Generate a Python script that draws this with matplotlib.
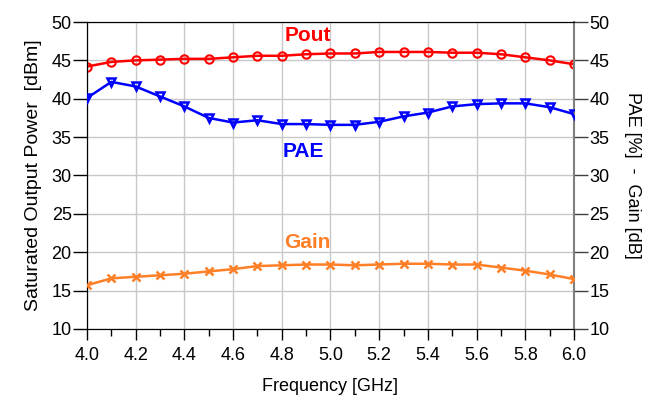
import matplotlib.pyplot as plt, numpy as np
from matplotlib.ticker import MultipleLocator

plt.rcParams['font.family'] = ['Liberation Sans', 'DejaVu Sans']

freq = [4.0, 4.1, 4.2, 4.3, 4.4, 4.5, 4.6, 4.7, 4.8, 4.9, 5.0,
        5.1, 5.2, 5.3, 5.4, 5.5, 5.6, 5.7, 5.8, 5.9, 6.0]
pout = [44.2, 44.8, 45.0, 45.1, 45.2, 45.2, 45.4, 45.6, 45.6, 45.8, 45.9,
        45.9, 46.1, 46.1, 46.1, 46.0, 46.0, 45.8, 45.4, 45.0, 44.5]
pae = [40.1, 42.2, 41.6, 40.3, 39.0, 37.5, 36.9, 37.2, 36.7, 36.7, 36.6,
       36.6, 37.0, 37.7, 38.2, 39.0, 39.3, 39.4, 39.4, 38.9, 38.0]
gain = [15.7, 16.6, 16.8, 17.0, 17.2, 17.5, 17.8, 18.2, 18.3, 18.4, 18.4,
        18.3, 18.4, 18.5, 18.5, 18.4, 18.4, 18.0, 17.6, 17.1, 16.5]

RED, BLUE, ORANGE = '#ff0000', '#0000ff', '#ff7f27'

fig = plt.figure(figsize=(6.55, 3.98), dpi=100)
ax = fig.add_axes([0.1328, 0.1734, 0.7435, 0.7713])
ax2 = ax.twinx()

ax.plot(freq, pout, color=RED, lw=1.8, marker='o', ms=6, mfc='none', mew=1.5, zorder=3)
ax2.plot(freq, pae, color=BLUE, lw=1.8, marker='v', ms=6, mfc='none', mew=1.8, zorder=3)
ax2.plot(freq, gain, color=ORANGE, lw=1.8, marker='x', ms=6, mew=1.8, zorder=3)

for a in (ax, ax2):
    a.set_xlim(4.0, 6.0)
    a.set_ylim(10, 50)
    a.yaxis.set_major_locator(MultipleLocator(5))
    a.tick_params(axis='y', labelsize=13, direction='out', length=10, width=1, pad=1)

ax.xaxis.set_minor_locator(MultipleLocator(0.1))
ax.set_xticks(np.arange(4.0, 6.01, 0.2))
ax.set_xticklabels([f'{v:.1f}' for v in np.arange(4.0, 6.01, 0.2)])
ax.tick_params(axis='x', which='major', labelsize=13, direction='out', length=8, width=1, pad=5)
ax.tick_params(axis='x', which='minor', direction='out', length=5, width=1)
ax2.tick_params(axis='y', color='#404040')

ax.grid(True, which='major', color='#c8c8c8', lw=1)
ax.set_axisbelow(True)

for s in ('left', 'bottom', 'top'):
    ax.spines[s].set_color('black')
ax2.spines['right'].set_color('#808080')
ax2.spines['right'].set_linewidth(1.5)
ax.spines['right'].set_visible(False)

ax.set_xlabel('Frequency [GHz]', fontsize=13, labelpad=10)
ax.set_ylabel('Saturated Output Power  [dBm]', fontsize=14, labelpad=7)
ax2.set_ylabel('PAE [%]  -  Gain [dB]', fontsize=13, rotation=270, labelpad=23)

ax.text(4.907, 47.5, 'Pout', color=RED, fontsize=15, fontweight='bold', ha='center', va='baseline')
ax.text(4.887, 32.45, 'PAE', color=BLUE, fontsize=15, fontweight='bold', ha='center', va='baseline')
ax.text(4.905, 20.5, 'Gain', color=ORANGE, fontsize=15, fontweight='bold', ha='center', va='baseline')

fig.savefig('out.png', dpi=100)
